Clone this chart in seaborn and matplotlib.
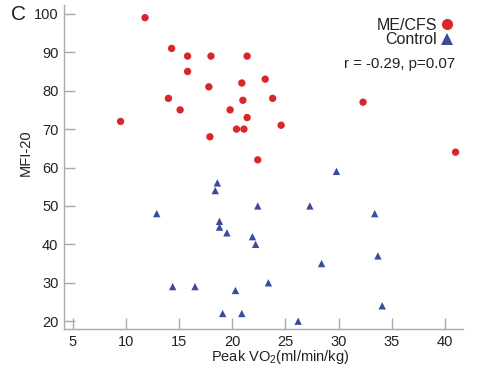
import pandas as pd
import seaborn as sns
import matplotlib.pyplot as plt

# ----------------------------------------------------
# data
# ----------------------------------------------------
mecfs_vo2 = [11.8, 14.3, 15.8, 18.0, 21.4, 15.8, 20.9, 23.1, 17.8, 14.0, 23.8,
             21.0, 32.3, 15.1, 19.8, 21.4, 9.5, 24.6, 20.4, 21.1, 17.9, 41.0, 22.4]
mecfs_mfi = [99, 91, 89, 89, 89, 85, 82, 83, 81, 78, 78,
             77.5, 77, 75, 75, 73, 72, 71, 70, 70, 68, 64, 62]

control_vo2 = [29.8, 18.6, 18.4, 22.4, 27.3, 12.9, 33.4, 18.8, 18.8, 19.5, 21.9,
               22.2, 33.7, 28.4, 23.4, 14.4, 16.5, 20.3, 34.1, 19.1, 20.9, 26.2]
control_mfi = [59, 56, 54, 50, 50, 48, 48, 46, 44.5, 43, 42,
               40, 37, 35, 30, 29, 29, 28, 24, 22, 22, 20]

GROUPS = ["ME/CFS", "Control"]

df = pd.DataFrame({
    "vo2": mecfs_vo2 + control_vo2,
    "mfi": mecfs_mfi + control_mfi,
    "group": [GROUPS[0]] * len(mecfs_vo2) + [GROUPS[1]] * len(control_vo2),
})

# ----------------------------------------------------
# style
# ----------------------------------------------------
sns.set_style("ticks")
plt.rcParams["font.family"] = ["Liberation Sans", "DejaVu Sans"]
plt.rcParams["mathtext.fontset"] = "custom"
plt.rcParams["mathtext.rm"] = "Liberation Sans"
plt.rcParams["mathtext.it"] = "Liberation Sans:italic"

fig = plt.figure(figsize=(4.79, 3.74), dpi=100)
ax = fig.add_axes([64 / 479, 1 - 329 / 374, 399 / 479, 324 / 374])

sns.scatterplot(data=df, x="vo2", y="mfi", hue="group", style="group",
                hue_order=GROUPS, style_order=GROUPS,
                palette={"ME/CFS": "#d9262b", "Control": "#3a4a9c"},
                markers={"ME/CFS": "o", "Control": "^"},
                s=28, linewidth=0, ax=ax)

ax.set_xlim(4.18, 41.7)
ax.set_ylim(17.97, 102.3)
ax.set_xticks([5, 10, 15, 20, 25, 30, 35, 40])
ax.set_yticks([20, 30, 40, 50, 60, 70, 80, 90, 100])

grey = "#aaaaaa"
for side in ["top", "right"]:
    ax.spines[side].set_visible(False)
for side in ["left", "bottom"]:
    ax.spines[side].set_color(grey)
    ax.spines[side].set_linewidth(1.0)
ax.tick_params(direction="in", length=8, width=1.0, color=grey,
               labelsize=10.5, labelcolor="#222222", pad=4)

ax.set_xlabel(r"Peak VO$_2$(ml/min/kg)", fontsize=10.5, color="#222222")
ax.set_ylabel("MFI-20", fontsize=10.5, color="#222222")
ax.xaxis.set_label_coords((280 - 64) / 399, -0.059)
ax.yaxis.set_label_coords(-0.078, (329 - 153) / 324)

leg = ax.legend(loc="upper right", bbox_to_anchor=(453 / 479, 1 - 18 / 374),
                bbox_transform=fig.transFigure, frameon=False,
                markerfirst=False, fontsize=11.5, handletextpad=0.2,
                labelspacing=-0.05, borderaxespad=0.0, borderpad=0.0,
                handlelength=0.8)
for t in leg.get_texts():
    t.set_color("#222222")
for h in leg.legend_handles:
    h.set_markersize(8)

ax.text(0.98, 0.818, "r = -0.29, p=0.07", transform=ax.transAxes,
        ha="right", va="center", fontsize=10.8, color="#222222")

fig.text(11 / 479, 1 - 15 / 374, "C", fontsize=15, ha="left", va="center",
         color="#222222")

plt.savefig("out.png", dpi=100)
